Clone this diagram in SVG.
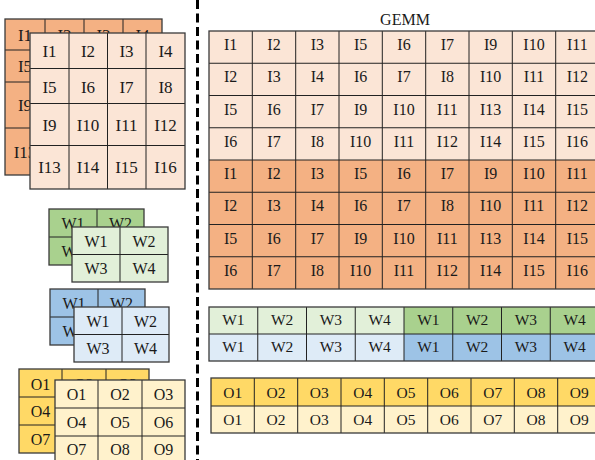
<svg xmlns="http://www.w3.org/2000/svg" width="595" height="460" viewBox="0 0 595 460">
  <style>
    .t { font-family: "Liberation Serif", "Times New Roman", serif; fill: #1a1a1a; text-anchor: middle; }
    .f16 { font-size: 16px; }
    .f17 { font-size: 17px; }
    .f15 { font-size: 15.5px; }
    .grid { fill: none; stroke: #222; stroke-width: 1; }
    .edge { fill: none; stroke: #3a3a3a; stroke-width: 1.3; }
    .orD { fill: #F4B183; }
    .orL { fill: #FBE5D6; }
    .grD { fill: #A9D18E; }
    .grL { fill: #E2F0D9; }
    .blD { fill: #9DC3E6; }
    .blL { fill: #DEEBF7; }
    .yeD { fill: #FFD966; }
    .yeL { fill: #FFF2CC; }
    .sep { stroke: #000; stroke-width: 3; stroke-dasharray: 9 4.5; }
  </style>

  <!-- input feature map, back channel (only the uncovered labels) -->
  <g id="input-back">
    <rect class="orD" x="5" y="19" width="157" height="156"/>
    <path class="grid" d="M45 19V175M84 19V175M123 19V175M5 50H162M5 82H162M5 128H162"/>
    <rect class="edge" x="5" y="19" width="157" height="156"/>
    <g class="t f17">
      <text x="25" y="40.5">I1</text><text x="64.5" y="40.5">I2</text><text x="103.5" y="40.5">I3</text><text x="142.5" y="40.5">I4</text>
      <text x="25" y="72">I5</text>
      <text x="25" y="111">I9</text>
      <text x="25" y="157.5">I13</text>
    </g>
  </g>

  <!-- input feature map, front channel -->
  <g id="input-front">
    <rect class="orL" x="30" y="33" width="155" height="156"/>
    <path class="grid" d="M69 33V189M107.5 33V189M146 33V189M30 68.5H185M30 103.5H185M30 145.5H185"/>
    <rect class="edge" x="30" y="33" width="155" height="156"/>
    <g class="t f17">
      <text x="49.5" y="57">I1</text><text x="88" y="57">I2</text><text x="126.5" y="57">I3</text><text x="165.5" y="57">I4</text>
      <text x="49.5" y="92.5">I5</text><text x="88" y="92.5">I6</text><text x="126.5" y="92.5">I7</text><text x="165.5" y="92.5">I8</text>
      <text x="49.5" y="131">I9</text><text x="88" y="131">I10</text><text x="126.5" y="131">I11</text><text x="165.5" y="131">I12</text>
      <text x="49.5" y="173">I13</text><text x="88" y="173">I14</text><text x="126.5" y="173">I15</text><text x="165.5" y="173">I16</text>
    </g>
  </g>

  <!-- weight kernel A -->
  <g id="weightA-back">
    <rect class="grD" x="49" y="209" width="95" height="56"/>
    <path class="grid" d="M97 209V265M49 237H144"/>
    <rect class="edge" x="49" y="209" width="95" height="56"/>
    <g class="t f16">
      <text x="73" y="229">W1</text><text x="120.5" y="229">W2</text>
      <text x="73" y="257">W3</text>
    </g>
  </g>
  <g id="weightA-front">
    <rect class="grL" x="72" y="227" width="96" height="55"/>
    <path class="grid" d="M120 227V282M72 254.5H168"/>
    <rect class="edge" x="72" y="227" width="96" height="55"/>
    <g class="t f16">
      <text x="96" y="246.5">W1</text><text x="144" y="246.5">W2</text>
      <text x="96" y="274">W3</text><text x="144" y="274">W4</text>
    </g>
  </g>

  <!-- weight kernel B -->
  <g id="weightB-back">
    <rect class="blD" x="50" y="289" width="95" height="56"/>
    <path class="grid" d="M98 289V345M50 317H145"/>
    <rect class="edge" x="50" y="289" width="95" height="56"/>
    <g class="t f16">
      <text x="74" y="309">W1</text><text x="121.5" y="309">W2</text>
      <text x="74" y="337">W3</text>
    </g>
  </g>
  <g id="weightB-front">
    <rect class="blL" x="74" y="307" width="95" height="55"/>
    <path class="grid" d="M122 307V362M74 334.5H169"/>
    <rect class="edge" x="74" y="307" width="95" height="55"/>
    <g class="t f16">
      <text x="98" y="326.5">W1</text><text x="145.5" y="326.5">W2</text>
      <text x="98" y="354">W3</text><text x="145.5" y="354">W4</text>
    </g>
  </g>

  <!-- output feature map -->
  <g id="output-back">
    <rect class="yeD" x="19" y="369" width="130" height="84"/>
    <path class="grid" d="M62 369V453M106 369V453M19 397H149M19 425H149"/>
    <rect class="edge" x="19" y="369" width="130" height="84"/>
    <g class="t f16">
      <text x="40.5" y="390">O1</text><text x="84" y="390">O2</text><text x="127.5" y="390">O3</text>
      <text x="40.5" y="417">O4</text>
      <text x="40.5" y="444.5">O7</text>
    </g>
  </g>
  <g id="output-front">
    <rect class="yeL" x="55" y="380" width="130" height="84"/>
    <path class="grid" d="M98 380V464M142 380V464M55 408H185M55 436H185"/>
    <rect class="edge" x="55" y="380" width="130" height="84"/>
    <g class="t f16">
      <text x="76.5" y="400">O1</text><text x="120" y="400">O2</text><text x="163.5" y="400">O3</text>
      <text x="76.5" y="428">O4</text><text x="120" y="428">O5</text><text x="163.5" y="428">O6</text>
      <text x="76.5" y="455">O7</text><text x="120" y="455">O8</text><text x="163.5" y="455">O9</text>
    </g>
  </g>

  <!-- separator -->
  <g id="connectors">
    <line class="sep" x1="197.5" y1="0" x2="197.5" y2="460"/>
  </g>

  <text class="t f16" x="405" y="25">GEMM</text>

  <!-- im2col input matrix -->
  <g id="gemm-input">
    <rect class="orL" x="209" y="31" width="390" height="129"/>
    <rect class="orD" x="209" y="160" width="390" height="129"/>
    <path class="grid" d="M252.3 31V289M295.7 31V289M339 31V289M382.3 31V289M425.7 31V289M469 31V289M512.3 31V289M555.7 31V289M209 63.25H599M209 95.5H599M209 127.75H599M209 160H599M209 192.25H599M209 224.5H599M209 256.75H599"/>
    <rect class="edge" x="209" y="31" width="390" height="258"/>
    <g class="t f16">
      <text x="230.7" y="50">I1</text><text x="274" y="50">I2</text><text x="317.3" y="50">I3</text><text x="360.7" y="50">I5</text><text x="404" y="50">I6</text><text x="447.3" y="50">I7</text><text x="490.7" y="50">I9</text><text x="534" y="50">I10</text><text x="577.3" y="50">I11</text>
      <text x="230.7" y="82.25">I2</text><text x="274" y="82.25">I3</text><text x="317.3" y="82.25">I4</text><text x="360.7" y="82.25">I6</text><text x="404" y="82.25">I7</text><text x="447.3" y="82.25">I8</text><text x="490.7" y="82.25">I10</text><text x="534" y="82.25">I11</text><text x="577.3" y="82.25">I12</text>
      <text x="230.7" y="114.5">I5</text><text x="274" y="114.5">I6</text><text x="317.3" y="114.5">I7</text><text x="360.7" y="114.5">I9</text><text x="404" y="114.5">I10</text><text x="447.3" y="114.5">I11</text><text x="490.7" y="114.5">I13</text><text x="534" y="114.5">I14</text><text x="577.3" y="114.5">I15</text>
      <text x="230.7" y="146.75">I6</text><text x="274" y="146.75">I7</text><text x="317.3" y="146.75">I8</text><text x="360.7" y="146.75">I10</text><text x="404" y="146.75">I11</text><text x="447.3" y="146.75">I12</text><text x="490.7" y="146.75">I14</text><text x="534" y="146.75">I15</text><text x="577.3" y="146.75">I16</text>
      <text x="230.7" y="179">I1</text><text x="274" y="179">I2</text><text x="317.3" y="179">I3</text><text x="360.7" y="179">I5</text><text x="404" y="179">I6</text><text x="447.3" y="179">I7</text><text x="490.7" y="179">I9</text><text x="534" y="179">I10</text><text x="577.3" y="179">I11</text>
      <text x="230.7" y="211.25">I2</text><text x="274" y="211.25">I3</text><text x="317.3" y="211.25">I4</text><text x="360.7" y="211.25">I6</text><text x="404" y="211.25">I7</text><text x="447.3" y="211.25">I8</text><text x="490.7" y="211.25">I10</text><text x="534" y="211.25">I11</text><text x="577.3" y="211.25">I12</text>
      <text x="230.7" y="243.5">I5</text><text x="274" y="243.5">I6</text><text x="317.3" y="243.5">I7</text><text x="360.7" y="243.5">I9</text><text x="404" y="243.5">I10</text><text x="447.3" y="243.5">I11</text><text x="490.7" y="243.5">I13</text><text x="534" y="243.5">I14</text><text x="577.3" y="243.5">I15</text>
      <text x="230.7" y="275.75">I6</text><text x="274" y="275.75">I7</text><text x="317.3" y="275.75">I8</text><text x="360.7" y="275.75">I10</text><text x="404" y="275.75">I11</text><text x="447.3" y="275.75">I12</text><text x="490.7" y="275.75">I14</text><text x="534" y="275.75">I15</text><text x="577.3" y="275.75">I16</text>
    </g>
  </g>

  <!-- flattened weight rows -->
  <g id="gemm-weights">
    <rect class="grL" x="209" y="307" width="195" height="27"/>
    <rect class="grD" x="404" y="307" width="195" height="27"/>
    <rect class="blL" x="209" y="334" width="195" height="27"/>
    <rect class="blD" x="404" y="334" width="195" height="27"/>
    <path class="grid" d="M257.75 307V361M306.5 307V361M355.25 307V361M404 307V361M452.75 307V361M501.5 307V361M550.25 307V361M209 334H599"/>
    <rect class="edge" x="209" y="307" width="390" height="54"/>
    <g class="t f15">
      <text x="233.4" y="325">W1</text><text x="282.1" y="325">W2</text><text x="330.9" y="325">W3</text><text x="379.6" y="325">W4</text><text x="428.4" y="325">W1</text><text x="477.1" y="325">W2</text><text x="525.9" y="325">W3</text><text x="574.6" y="325">W4</text>
      <text x="233.4" y="352">W1</text><text x="282.1" y="352">W2</text><text x="330.9" y="352">W3</text><text x="379.6" y="352">W4</text><text x="428.4" y="352">W1</text><text x="477.1" y="352">W2</text><text x="525.9" y="352">W3</text><text x="574.6" y="352">W4</text>
    </g>
  </g>

  <!-- output rows -->
  <g id="gemm-output">
    <rect class="yeD" x="211" y="378" width="390" height="28"/>
    <rect class="yeL" x="211" y="406" width="390" height="27"/>
    <path class="grid" d="M254.3 378V433M297.7 378V433M341 378V433M384.3 378V433M427.7 378V433M471 378V433M514.3 378V433M557.7 378V433M211 406H601"/>
    <rect class="edge" x="211" y="378" width="390" height="55"/>
    <g class="t f15">
      <text x="232.7" y="397.5">O1</text><text x="276" y="397.5">O2</text><text x="319.3" y="397.5">O3</text><text x="362.7" y="397.5">O4</text><text x="406" y="397.5">O5</text><text x="449.3" y="397.5">O6</text><text x="492.7" y="397.5">O7</text><text x="536" y="397.5">O8</text><text x="579.3" y="397.5">O9</text>
      <text x="232.7" y="425">O1</text><text x="276" y="425">O2</text><text x="319.3" y="425">O3</text><text x="362.7" y="425">O4</text><text x="406" y="425">O5</text><text x="449.3" y="425">O6</text><text x="492.7" y="425">O7</text><text x="536" y="425">O8</text><text x="579.3" y="425">O9</text>
    </g>
  </g>
</svg>
